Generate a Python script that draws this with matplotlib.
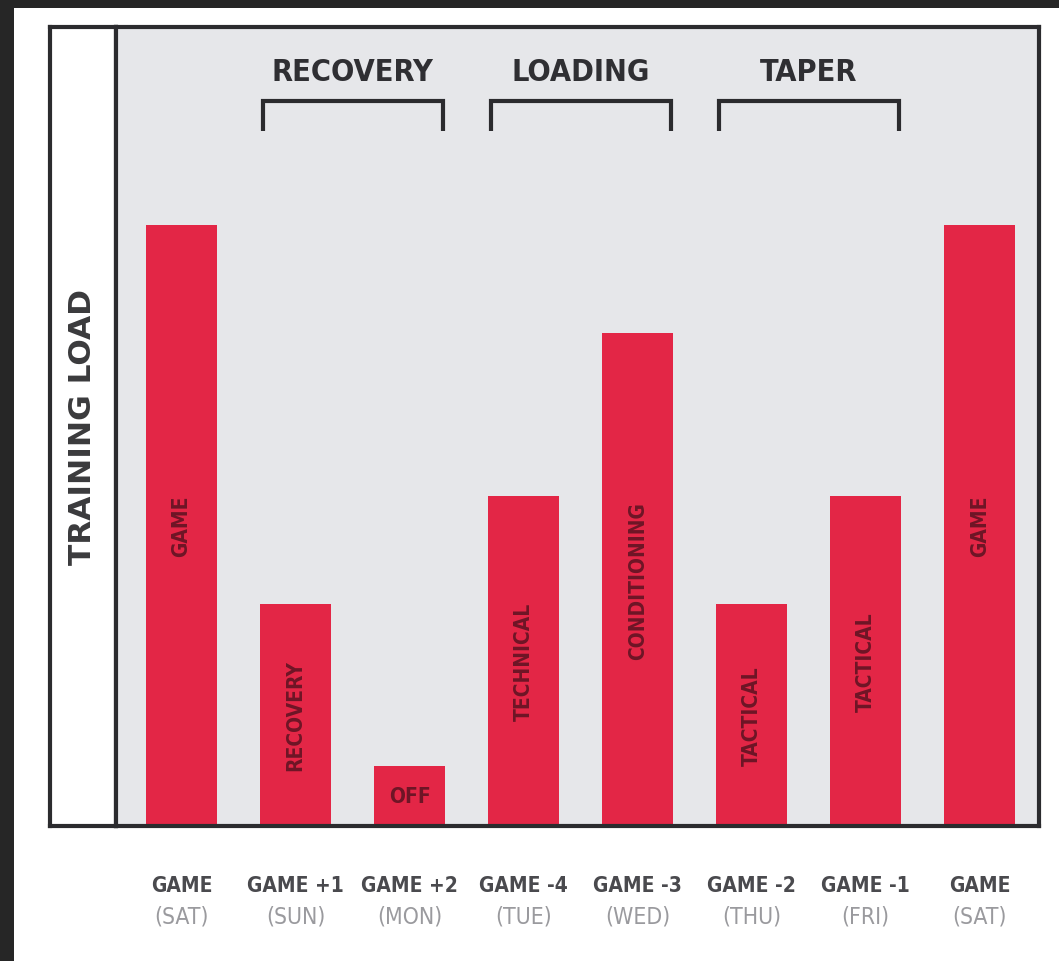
import matplotlib
matplotlib.use('Agg')
import matplotlib.pyplot as plt
from matplotlib.patches import Rectangle
import matplotlib.transforms as mtransforms

# Weekly training load cycle between two games
days = ['GAME', 'GAME +1', 'GAME +2', 'GAME -4', 'GAME -3', 'GAME -2', 'GAME -1', 'GAME']
weekdays = ['(SAT)', '(SUN)', '(MON)', '(TUE)', '(WED)', '(THU)', '(FRI)', '(SAT)']
sessions = ['GAME', 'RECOVERY', 'OFF', 'TECHNICAL', 'CONDITIONING', 'TACTICAL', 'TACTICAL', 'GAME']
load = [100, 37, 10, 55, 82, 37, 55, 100]

# Phase groups: (name, first day index, last day index)
phases = ['RECOVERY', 'LOADING', 'TAPER']
phase_start = [1, 3, 5]
phase_end = [2, 4, 6]

FONT = ['DejaVu Sans']
RED = '#E32646'
DARK = '#2b2b2e'

W, H = 1059, 962
fig = plt.figure(figsize=(W / 100, H / 100), dpi=100)
fig.patch.set_facecolor('#262626')

# white card behind the chart
fig.add_artist(Rectangle((14 / W, 0), 1 - 14 / W, 1 - 9 / H,
                         transform=fig.transFigure, facecolor='white',
                         edgecolor='none', zorder=0))

def frac(x0, x1, y0, y1):
    return [x0 / W, 1 - y1 / H, (x1 - x0) / W, (y1 - y0) / H]

# left column holding the axis title
lax = fig.add_axes(frac(50, 116, 28, 827))
lax.set_xticks([])
lax.set_yticks([])
lax.set_facecolor('white')
for s in lax.spines.values():
    s.set_linewidth(3)
    s.set_color(DARK)
lax.text(0.5, 0.5, 'TRAINING LOAD', rotation=90, ha='center', va='center',
         fontsize=22.5, fontweight='bold', color='#3a3a3c', family=FONT,
         transform=lax.transAxes)

ax = fig.add_axes(frac(116, 1039, 28, 827))
ax.set_facecolor('#E6E7EA')
for s in ax.spines.values():
    s.set_linewidth(3)
    s.set_color(DARK)

x = list(range(len(load)))
width = 0.62
ax.bar(x, load, width=width, color=RED, zorder=2)

for i, (name, val) in enumerate(zip(sessions, load)):
    rot = 0 if name == 'OFF' else 90
    ax.text(i, val / 2, name, rotation=rot, ha='center', va='center',
            fontsize=15, fontweight='bold', fontstretch='condensed',
            color='#6E1526', family=FONT, zorder=3)

ax.set_xlim(-0.575, 7.52)
ax.set_ylim(0, 133)
ax.set_xticks([])
ax.set_yticks([])

# phase brackets above the bars
for name, a, b in zip(phases, phase_start, phase_end):
    left = a - width / 2 + 0.02
    right = b + width / 2 - 0.02
    ax.plot([left, left, right, right], [115.7, 120.7, 120.7, 115.7],
            color=DARK, lw=3, solid_capstyle='butt', solid_joinstyle='miter',
            zorder=3)
    ax.text((a + b) / 2, 125.6, name, ha='center', va='center', fontsize=22,
            fontweight='bold', fontstretch='condensed', color='#2f2f33',
            family=FONT)

# two-line day labels under the axis
trans = mtransforms.blended_transform_factory(ax.transData, ax.transAxes)
for i, (d, wd) in enumerate(zip(days, weekdays)):
    ax.text(i, -0.074, d, ha='center', va='center', fontsize=15,
            fontweight='bold', fontstretch='condensed', color='#4a4a4e',
            family=FONT, transform=trans)
    ax.text(i, -0.113, wd, ha='center', va='center', fontsize=16.5,
            fontstretch='condensed', color='#9a9a9e', family=FONT,
            transform=trans)

fig.savefig('out.png', dpi=100, facecolor=fig.get_facecolor())
